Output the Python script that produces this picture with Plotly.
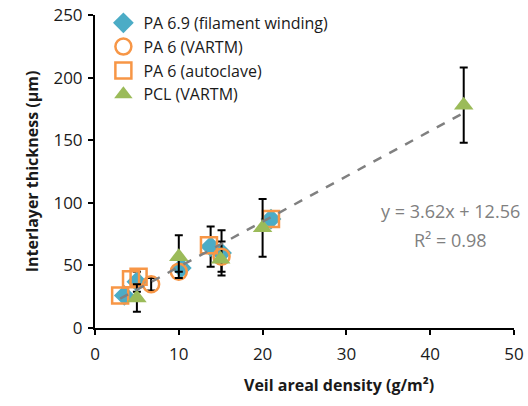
import plotly.graph_objects as go

# Data
pa69_x = [3.5, 5.0, 10.3, 13.8, 15.1, 21.0]
pa69_y = [26, 37, 48, 65, 60, 87]
pa69_err = [0, 8, 0, 16, 18, 0]

pa6v_x = [6.7, 10.0, 15.1]
pa6v_y = [35, 45, 57]
pa6v_err = [5, 0, 12]

pa6a_x = [3.0, 4.3, 5.2, 13.6, 21.0]
pa6a_y = [26, 39, 41, 66, 87]

pcl_x = [5.0, 10.0, 15.0, 20.0, 44.0]
pcl_y = [24, 57, 55, 80, 178]
pcl_err = [11, 17, 0, 23, 30]

slope, intercept = 3.62, 12.56
trend_x = [3.0, 44.0]
trend_y = [slope * v + intercept for v in trend_x]

x_ticks = [0, 10, 20, 30, 40, 50]
y_ticks = [0, 50, 100, 150, 200, 250]

FONT = "Open Sans"
TXT = "#1a1a1a"
BLUE = "#4BACC6"
ORANGE = "#F79646"
GREEN = "#9BBB59"

def eb(arr):
    return dict(type="data", array=arr, visible=True, color="black", thickness=2, width=4)

fig = go.Figure()
fig.add_trace(go.Scatter(x=pa69_x, y=pa69_y, mode="markers", name="PA 6.9 (filament winding)",
                         marker=dict(symbol="diamond", size=16, color=BLUE),
                         error_y=eb(pa69_err)))
fig.add_trace(go.Scatter(x=pa6v_x, y=pa6v_y, mode="markers", name="PA 6 (VARTM)",
                         marker=dict(symbol="circle-open", size=16, color=ORANGE, line=dict(width=2.5, color=ORANGE)),
                         error_y=eb(pa6v_err)))
fig.add_trace(go.Scatter(x=pa6a_x, y=pa6a_y, mode="markers", name="PA 6 (autoclave)",
                         marker=dict(symbol="square-open", size=16, color=ORANGE, line=dict(width=2.5, color=ORANGE))))
fig.add_trace(go.Scatter(x=pcl_x, y=pcl_y, mode="markers", name="PCL (VARTM)",
                         marker=dict(symbol="triangle-up", size=17, color=GREEN),
                         error_y=eb(pcl_err)))
fig.add_trace(go.Scatter(x=trend_x, y=trend_y, mode="lines", showlegend=False,
                         line=dict(color="#808080", width=2.5, dash="dash")))

fig.add_annotation(x=42.4, y=93.5, text="y = 3.62x + 12.56", showarrow=False,
                   font=dict(family=FONT, size=18, color="#808080"), xanchor="center", yanchor="middle")
fig.add_annotation(x=42.4, y=70, text="R² = 0.98", showarrow=False,
                   font=dict(family=FONT, size=18, color="#808080"), xanchor="center", yanchor="middle")

# axis titles as paper annotations
fig.add_annotation(xref="paper", yref="paper", x=0.582, y=-0.183, text="<b>Veil areal density (g/m²)</b>",
                   showarrow=False, xanchor="center", yanchor="middle",
                   font=dict(family=FONT, size=16, color=TXT))
fig.add_annotation(xref="paper", yref="paper", x=-0.151, y=0.5, text="<b>Interlayer thickness (µm)</b>",
                   showarrow=False, xanchor="center", yanchor="middle", textangle=-90,
                   font=dict(family=FONT, size=16, color=TXT))

axis_common = dict(showgrid=False, zeroline=False, showline=True, linecolor="black", linewidth=2,
                   ticks="outside", ticklen=5, tickwidth=2, tickcolor="black", automargin=False,
                   tickfont=dict(family=FONT, size=17, color=TXT))
fig.update_xaxes(range=[0, 50], tickvals=x_ticks, ticklabelstandoff=5, **axis_common)
fig.update_yaxes(range=[0, 250], tickvals=y_ticks, ticklabelstandoff=2, **axis_common)

fig.update_layout(width=528, height=406, margin=dict(l=95, r=14, t=15, b=78, autoexpand=False),
                  plot_bgcolor="white", paper_bgcolor="white",
                  font=dict(family=FONT, color=TXT),
                  legend=dict(x=0.02, y=0.9855, yref="container", xanchor="left", yanchor="top",
                              bgcolor="rgba(0,0,0,0)",
                              font=dict(family=FONT, size=16, color=TXT), itemwidth=30,
                              tracegroupgap=0))

fig.write_html("out.html")
